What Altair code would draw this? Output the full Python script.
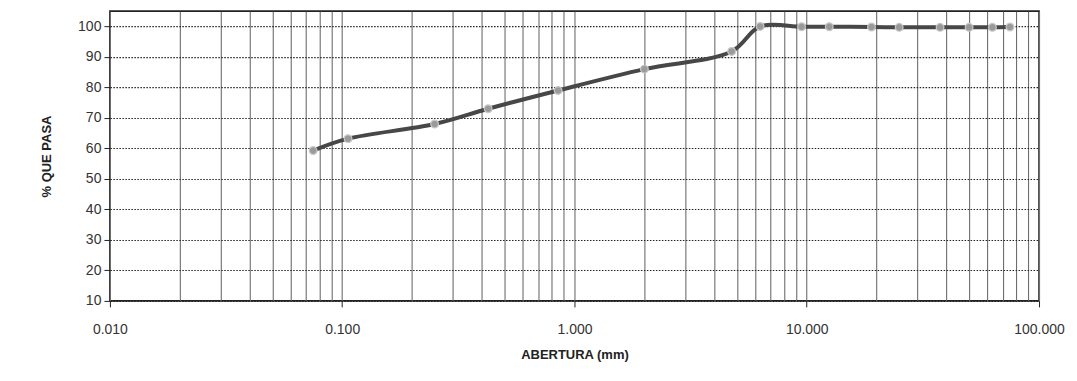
import altair as alt
import pandas as pd

# Sieve openings (mm) and percent passing
abertura = [0.075, 0.106, 0.25, 0.425, 0.85, 2.0, 4.75, 6.3, 9.5, 12.5, 19.0, 25.0, 37.5, 50.0, 63.0, 75.0]
pasa = [59.3, 63.2, 68.0, 73.0, 79.0, 86.0, 91.8, 100.0, 99.9, 99.9, 99.8, 99.7, 99.7, 99.7, 99.7, 99.8]

# Axis tick values
x_grid_values = [m * 10 ** e for e in (-2, -1, 0, 1) for m in range(1, 10)] + [100]
y_tick_values = [10, 20, 30, 40, 50, 60, 70, 80, 90, 100]

df = pd.DataFrame({"abertura": abertura, "pasa": pasa})

decade_test = "abs(log(datum.value)/LN10 - round(log(datum.value)/LN10)) < 0.000001"

x_enc = alt.X(
    "abertura:Q",
    scale=alt.Scale(type="log", domain=[0.01, 100], nice=False),
    axis=alt.Axis(
        values=x_grid_values,
        labelExpr=f"{decade_test} ? format(datum.value, '.3f') : ''",
        title="ABERTURA (mm)",
        grid=True,
        gridColor="#6e6e6e",
        gridWidth=1.1,
        tickOpacity={"condition": {"test": decade_test, "value": 1}, "value": 0},
        tickSize=6,
        tickColor="#222",
        labelPadding=16,
        labelFontSize=14,
        labelColor="#333",
        labelFont="Liberation Sans",
        titleFont="Liberation Sans",
        titleFontSize=13,
        titleFontWeight="bold",
        titleColor="#222",
        titlePadding=12,
        domain=False,
        labelFlush=False,
        labelOverlap=False,
    ),
)

y_enc = alt.Y(
    "pasa:Q",
    scale=alt.Scale(domain=[10, 105], nice=False, zero=False),
    axis=alt.Axis(
        values=y_tick_values,
        tickCount=10,
        title="% QUE PASA",
        grid=True,
        gridColor="#222",
        gridDash=[1.5, 1.5],
        gridWidth=1.1,
        tickSize=6,
        tickColor="#222",
        labelPadding=3,
        labelFontSize=14,
        labelColor="#333",
        labelFont="Liberation Sans",
        titleFont="Liberation Sans",
        titleFontSize=13,
        titleFontWeight="bold",
        titleColor="#222",
        titlePadding=24,
        domain=False,
        labelOverlap=False,
        labelFlush=False,
    ),
)

base = alt.Chart(df).encode(x=x_enc, y=y_enc)

line = base.mark_line(
    color="#474747", strokeWidth=4, interpolate="catmull-rom"
)

points = base.mark_point(
    shape="circle", size=60, filled=True, color="#9a9a9a", stroke="#c8c8c8", strokeWidth=1.2, opacity=1
)

chart = (
    alt.layer(line, points)
    .properties(
        width=930,
        height=290,
        autosize=alt.AutoSizeParams(type="none"),
        padding={"left": 102, "top": 3, "right": 30, "bottom": 75},
        background="#ffffff",
    )
    .configure_view(stroke="#222", strokeWidth=1.6)
)

chart.save("out.html", embed_options={"renderer": "svg", "actions": False})
